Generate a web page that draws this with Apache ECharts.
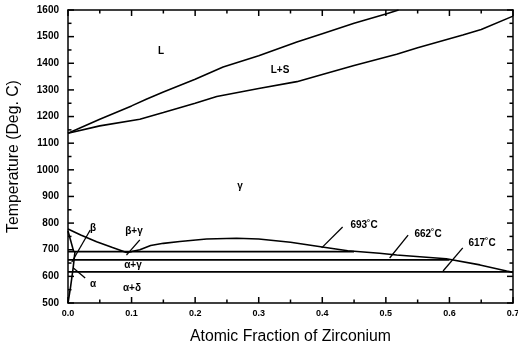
<!DOCTYPE html>
<html><head><meta charset="utf-8">
<script src="https://cdn.jsdelivr.net/npm/echarts@6/dist/echarts.min.js"></script>
<style>html,body{margin:0;padding:0;background:#fff}#c{width:518px;height:349px}</style>
</head><body><div id="c"></div>
<script>
// Liquidus
const liqX = [0.0, 0.05, 0.1, 0.124, 0.15, 0.2, 0.244, 0.3, 0.36, 0.4, 0.45, 0.5, 0.52];
const liqT = [1137, 1190, 1240, 1266, 1292, 1340, 1386, 1428, 1480, 1511, 1550, 1585, 1600];
// Solidus
const solX = [0.0, 0.05, 0.113, 0.15, 0.2, 0.234, 0.3, 0.36, 0.4, 0.45, 0.517, 0.55, 0.621, 0.65, 0.7];
const solT = [1137, 1165, 1190, 1215, 1250, 1275, 1305, 1331, 1358, 1392, 1434, 1458, 1506, 1527, 1577];
// Upper gamma boundary
const gamX = [0.0, 0.02, 0.045, 0.07, 0.092, 0.1, 0.113, 0.13, 0.15, 0.176, 0.218, 0.265, 0.3, 0.35, 0.4, 0.44, 0.49, 0.517, 0.595, 0.648, 0.69, 0.7];
const gamT = [778, 755, 730, 708, 690, 693, 700, 716, 724, 731, 740, 743, 740, 728, 710, 696, 687, 680, 666, 643, 620, 615];
// Isotherms
const iso693X = [0.0, 0.45]; const iso693T = [693, 693];
const iso662X = [0.0, 0.60]; const iso662T = [662, 662];
const iso617X = [0.0, 0.70]; const iso617T = [617, 617];
// Small boundaries near x = 0
const betaX = [0.0, 0.009]; const betaT = [770, 693];
const alphaX = [0.0, 0.004, 0.008, 0.011]; const alphaT = [500, 560, 630, 693];
// Pointer lines for labels
const arrows = [
  [[0.432, 785], [0.399, 707]],
  [[0.535, 755], [0.506, 669]],
  [[0.621, 707], [0.590, 620]],
  [[0.113, 737], [0.092, 680]],
  [[0.035, 774], [0.006, 654]],
  [[0.027, 594], [0.008, 632]]
];
// Tick labels
const xTicks = [0.0, 0.1, 0.2, 0.3, 0.4, 0.5, 0.6, 0.7];
const yTicks = [500, 600, 700, 800, 900, 1000, 1100, 1200, 1300, 1400, 1500, 1600];
// Minor tick positions
const xMinor = [0.05, 0.15, 0.25, 0.35, 0.45, 0.55, 0.65];
const yMinor = [550, 650, 750, 850, 950, 1050, 1150, 1250, 1350, 1450, 1550];

function pairs(xs, ys) { return xs.map((x, i) => [x, ys[i]]); }
const F = 'Liberation Sans, Arial, sans-serif';
function lineSeries(d, w) {
  return { type: 'line', data: d, showSymbol: false, symbol: 'none',
    lineStyle: { color: '#000', width: w || 1.6 }, animation: false };
}
const series = [
  lineSeries(pairs(liqX, liqT)),
  lineSeries(pairs(solX, solT)),
  lineSeries(pairs(gamX, gamT)),
  lineSeries(pairs(iso693X, iso693T)),
  lineSeries(pairs(iso662X, iso662T)),
  lineSeries(pairs(iso617X, iso617T)),
  lineSeries(pairs(betaX, betaT)),
  lineSeries(pairs(alphaX, alphaT))
];
arrows.forEach(a => series.push(lineSeries(a, 1.3)));

const line = { show: true, onZero: false, lineStyle: { color: '#000', width: 1.5 } };
const texts = [
  ['L', 161, 51], ['L+S', 280, 70], ['\u03b3', 240, 186], ['\u03b2', 93, 228],
  ['\u03b2+\u03b3', 134, 231], ['\u03b1+\u03b3', 133, 265], ['\u03b1', 93, 284], ['\u03b1+\u03b4', 132, 288],
  ['693\u02daC', 364, 225], ['662\u02daC', 428, 234], ['617\u02daC', 482, 243]
].map(t => ({ type: 'text', x: t[1], y: t[2], silent: true, z: 100,
  style: { text: t[0], fill: '#000', font: 'bold 10px ' + F, textAlign: 'center', textVerticalAlign: 'middle' } }));

const chart = echarts.init(document.getElementById('c'));
chart.setOption({
  animation: false,
  grid: { left: 68, right: 5, top: 10, bottom: 46, containLabel: false, outerBoundsMode: 'none' },
  xAxis: [
    { type: 'value', min: 0, max: 0.7, interval: 0.1,
      name: 'Atomic Fraction of Zirconium', nameLocation: 'middle', nameGap: 26,
      nameTextStyle: { fontFamily: F, fontSize: 15.8, color: '#000' },
      axisTick: { show: false }, axisLine: line, splitLine: { show: false },
      axisLabel: { fontFamily: F, fontSize: 9, fontWeight: 'bold', color: '#000', margin: 6,
        formatter: v => xTicks.some(t => Math.abs(t - v) < 1e-9) ? v.toFixed(1) : '' } },
    { type: 'value', min: 0, max: 0.7, interval: 0.1, position: 'top',
      axisTick: { show: false }, axisLine: line, splitLine: { show: false },
      axisLabel: { show: false } }
  ],
  yAxis: [
    { type: 'value', min: 500, max: 1600, interval: 100,
      name: 'Temperature (Deg. C)', nameLocation: 'middle', nameGap: 46,
      nameTextStyle: { fontFamily: F, fontSize: 15.8, color: '#000' },
      axisTick: { show: false }, axisLine: line, splitLine: { show: false },
      axisLabel: { fontFamily: F, fontSize: 10, fontWeight: 'bold', color: '#000', margin: 9,
        formatter: v => yTicks.includes(v) ? String(v) : '' } },
    { type: 'value', min: 500, max: 1600, interval: 100, position: 'right',
      axisTick: { show: false }, axisLine: line, splitLine: { show: false },
      axisLabel: { show: false } }
  ],
  series: series,
  graphic: texts
});

// Inward tick marks on all four sides, positioned through the chart's own axis scales
const ticks = [];
const st = { stroke: '#000', lineWidth: 1.5 };
function px(x, y) { return chart.convertToPixel({ xAxisIndex: 0, yAxisIndex: 0 }, [x, y]); }
function addX(v, len) {
  const b = px(v, 500), t = px(v, 1600);
  ticks.push({ type: 'line', silent: true, z: 100, shape: { x1: b[0], y1: b[1], x2: b[0], y2: b[1] - len }, style: st });
  ticks.push({ type: 'line', silent: true, z: 100, shape: { x1: t[0], y1: t[1], x2: t[0], y2: t[1] + len }, style: st });
}
function addY(v, len) {
  const l = px(0, v), r = px(0.7, v);
  ticks.push({ type: 'line', silent: true, z: 100, shape: { x1: l[0], y1: l[1], x2: l[0] + len, y2: l[1] }, style: st });
  ticks.push({ type: 'line', silent: true, z: 100, shape: { x1: r[0], y1: r[1], x2: r[0] - len, y2: r[1] }, style: st });
}
xTicks.forEach(v => addX(v, 6));
xMinor.forEach(v => addX(v, 3.5));
yTicks.forEach(v => addY(v, 6));
yMinor.forEach(v => addY(v, 3.5));
chart.setOption({ graphic: texts.concat(ticks) }, { replaceMerge: ['graphic'] });
</script></body></html>
